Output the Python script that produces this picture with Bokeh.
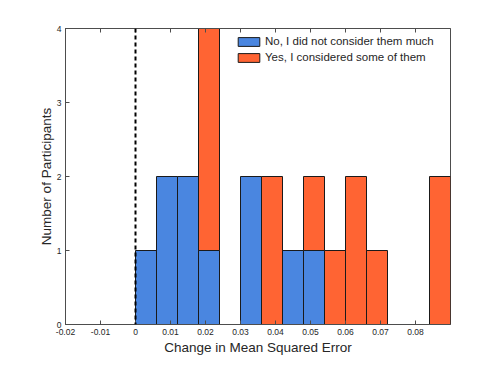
from bokeh.plotting import figure
from bokeh.models import Range1d, Span, LinearAxis, Legend, LegendItem, FixedTicker, ColumnDataSource
from bokeh.embed import file_html
from bokeh.resources import INLINE

# ---- data ----
bin_edges = [0.0, 0.006, 0.012, 0.018, 0.024, 0.030, 0.036, 0.042,
             0.048, 0.054, 0.060, 0.066, 0.072, 0.078, 0.084, 0.090]
no_counts = [1, 2, 2, 1, 0, 2, 0, 1, 1, 0, 0, 0, 0, 0, 0]
yes_counts = [0, 0, 0, 3, 0, 0, 2, 0, 1, 1, 2, 1, 0, 0, 2]
series_labels = ["No, I did not consider them much", "Yes, I considered some of them"]
x_ticks = [-0.02, -0.01, 0.0, 0.01, 0.02, 0.03, 0.04, 0.05, 0.06, 0.07, 0.08]
x_tick_labels = ["-0.02", "-0.01", "0", "0.01", "0.02", "0.03", "0.04", "0.05", "0.06", "0.07", "0.08"]
y_ticks = [0, 1, 2, 3, 4]
y_tick_labels = ["0", "1", "2", "3", "4"]

BLUE = "#4a86e0"
ORANGE = "#ff6433"
AXIS = "#4d4d4d"
TEXT = "#262626"
FONT = "Liberation Sans"

p = figure(frame_width=385, frame_height=296, x_range=Range1d(-0.02, 0.09), y_range=Range1d(0, 4),
           output_backend="svg", toolbar_location=None,
           min_border_left=65, min_border_right=40, min_border_top=28, min_border_bottom=36)
p.xgrid.visible = False
p.ygrid.visible = False
p.outline_line_color = AXIS
p.outline_line_width = 1

lefts = bin_edges[:-1]
rights = bin_edges[1:]
no_src = ColumnDataSource(dict(
    left=[l for l, c in zip(lefts, no_counts) if c > 0],
    right=[r for r, c in zip(rights, no_counts) if c > 0],
    top=[c for c in no_counts if c > 0]))
yes_src = ColumnDataSource(dict(
    left=[l for l, c in zip(lefts, yes_counts) if c > 0],
    right=[r for r, c in zip(rights, yes_counts) if c > 0],
    bottom=[n for n, c in zip(no_counts, yes_counts) if c > 0],
    top=[n + c for n, c in zip(no_counts, yes_counts) if c > 0]))

r_no = p.quad(left="left", right="right", bottom=0, top="top", source=no_src,
              fill_color=BLUE, line_color="#1a1a1a", line_width=1)
r_yes = p.quad(left="left", right="right", bottom="bottom", top="top", source=yes_src,
               fill_color=ORANGE, line_color="#1a1a1a", line_width=1)

p.add_layout(Span(location=0, dimension="height", line_color="black", line_width=2, line_dash="4 3"))

for ax in (p.xaxis[0], p.yaxis[0]):
    ax.axis_line_color = AXIS
    ax.major_tick_line_color = AXIS
    ax.major_tick_in = 4
    ax.major_tick_out = 0
    ax.minor_tick_line_color = None
    ax.major_label_text_font = FONT
    ax.major_label_text_font_size = "8.5px"
    ax.major_label_text_color = TEXT
    ax.major_label_standoff = 4
    ax.axis_label_text_font = FONT
    ax.axis_label_text_font_size = "13.5px"
    ax.axis_label_text_font_style = "normal"
    ax.axis_label_text_color = TEXT

p.xaxis[0].ticker = FixedTicker(ticks=x_ticks)
p.xaxis[0].major_label_overrides = dict(zip(x_ticks, x_tick_labels))
p.xaxis[0].axis_label = "Change in Mean Squared Error"
p.xaxis[0].axis_label_standoff = 2
p.yaxis[0].ticker = FixedTicker(ticks=y_ticks)
p.yaxis[0].major_label_overrides = dict(zip(y_ticks, y_tick_labels))
p.yaxis[0].axis_label = "Number of Participants"
p.yaxis[0].axis_label_standoff = 0

top_ax = LinearAxis(ticker=FixedTicker(ticks=x_ticks), axis_line_color=AXIS,
                    major_tick_line_color=AXIS, major_tick_in=4, major_tick_out=0,
                    minor_tick_line_color=None, major_label_text_font_size="1px",
                    major_label_text_alpha=0,
                    major_label_overrides={t: "" for t in x_ticks})
p.add_layout(top_ax, "above")

legend = Legend(items=[LegendItem(label=series_labels[0], renderers=[r_no]),
                       LegendItem(label=series_labels[1], renderers=[r_yes])],
                location=(170, 261), padding=0, margin=0, spacing=4,
                glyph_width=27, glyph_height=11, label_height=11, label_standoff=3,
                label_text_font=FONT, label_text_font_size="11.5px", label_text_color=TEXT,
                border_line_color=None, background_fill_color="white", background_fill_alpha=1)
p.add_layout(legend)

open("out.html", "w").write(file_html(p, INLINE))
